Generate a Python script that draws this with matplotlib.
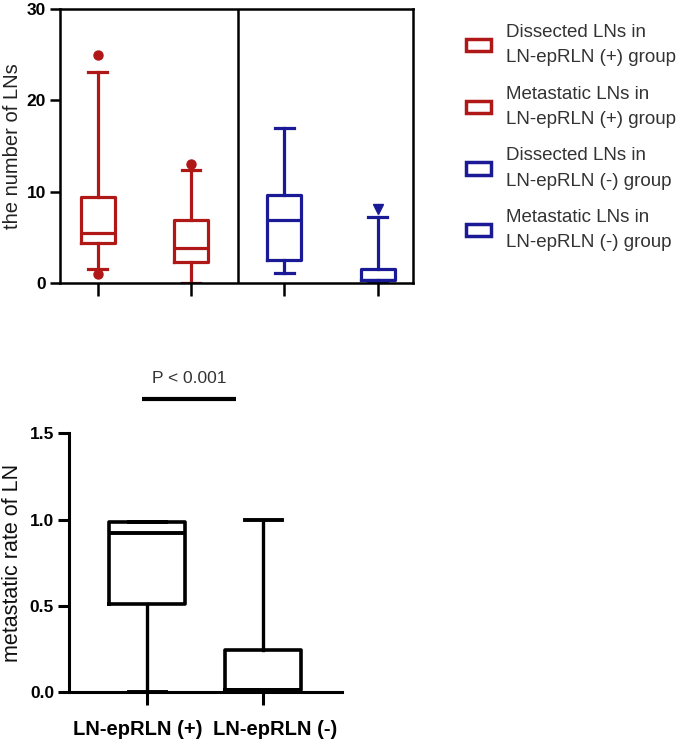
import matplotlib
matplotlib.use("Agg")
import matplotlib.pyplot as plt
from matplotlib.patches import Patch
import matplotlib.transforms as mtransforms

plt.rcParams['font.family'] = ['Liberation Sans', 'DejaVu Sans']

# ---------------- data: top panel (number of LNs) ----------------
top_labels = ["Dissected LNs in\nLN-epRLN (+) group",
              "Metastatic LNs in\nLN-epRLN (+) group",
              "Dissected LNs in\nLN-epRLN (-) group",
              "Metastatic LNs in\nLN-epRLN (-) group"]
top_q1 = [4.4, 2.3, 2.55, 0.3]
top_med = [5.5, 3.8, 6.9, 0.3]
top_q3 = [9.4, 6.85, 9.6, 1.5]
top_whislo = [1.5, 0.0, 1.1, 0.0]
top_whishi = [23.1, 12.4, 17.0, 7.2]
top_fliers = [[25.0, 1.0], [13.0], [], [8.1]]
top_markers = ['o', 'o', 'o', 'v']

# ---------------- data: bottom panel (metastatic rate) ----------------
bot_labels = ["LN-epRLN (+)", "LN-epRLN (-)"]
bot_q1 = [0.51, 0.012]
bot_med = [0.92, 0.012]
bot_q3 = [0.985, 0.245]
bot_whislo = [0.0, 0.0]
bot_whishi = [0.985, 1.0]
p_text = "P < 0.001"

RED = '#B01818'
BLUE = '#1A1A96'
top_colors = [RED, RED, BLUE, BLUE]

fig = plt.figure(figsize=(6.85, 7.45), dpi=100)

# ---------------- top panel ----------------
ax1 = fig.add_axes([60/685, 1 - 283/745, 353/685, 274/745])
positions = [1, 2, 3, 4]
for i in range(4):
    st = [dict(med=top_med[i], q1=top_q1[i], q3=top_q3[i],
               whislo=top_whislo[i], whishi=top_whishi[i], fliers=top_fliers[i])]
    c = top_colors[i]
    ax1.bxp(st, positions=[positions[i]], widths=0.365, showfliers=True,
            boxprops=dict(color=c, linewidth=2.3),
            medianprops=dict(color=c, linewidth=2.3),
            whiskerprops=dict(color=c, linewidth=2.3),
            capprops=dict(color=c, linewidth=2.3),
            flierprops=dict(marker=top_markers[i], markerfacecolor=c,
                            markeredgecolor=c, markersize=6.5, linestyle='none'),
            capwidths=0.2, manage_ticks=False)
ax1.set_xlim(0.595, 4.38)
ax1.set_ylim(0, 30)
ax1.axvline(2.5, color='black', linewidth=1.8)
ax1.set_yticks([0, 10, 20, 30])
ax1.set_xticks(positions)
ax1.set_xticklabels([])
for s in ax1.spines.values():
    s.set_linewidth(1.8)
ax1.tick_params(axis='y', direction='out', length=7, width=1.8, labelsize=12.5, pad=3)
ax1.tick_params(axis='x', direction='out', length=9, width=1.8)
for lab in ax1.get_yticklabels():
    lab.set_fontweight('bold')
ax1.set_ylabel("the number of LNs", fontsize=14.5, color='#222222')
ax1.yaxis.set_label_coords(-0.108, 0.5)

handles = [Patch(facecolor='white', edgecolor=c, linewidth=2.5) for c in top_colors]
leg = fig.legend(handles, top_labels, loc='upper left', bbox_to_anchor=(466/685, 1 - 24/745),
                 frameon=False, fontsize=13.5, handlelength=1.35, handleheight=0.62,
                 handletextpad=0.8, labelspacing=1.05, borderaxespad=0, borderpad=0)
for t in leg.get_texts():
    t.set_color('#333333')
    t.set_linespacing(1.62)

# ---------------- bottom panel ----------------
ax2 = fig.add_axes([69.3/685, 1 - 692.3/745, 272.4/685, 259/745])
for i in range(2):
    st = [dict(med=bot_med[i], q1=bot_q1[i], q3=bot_q3[i],
               whislo=bot_whislo[i], whishi=bot_whishi[i], fliers=[])]
    ax2.bxp(st, positions=[i + 1], widths=0.655, showfliers=False,
            boxprops=dict(color='black', linewidth=2.6),
            medianprops=dict(color='black', linewidth=2.8),
            whiskerprops=dict(color='black', linewidth=2.4),
            capprops=dict(color='black', linewidth=2.8),
            capwidths=0.32, manage_ticks=False)
ax2.set_xlim(0.327, 2.676)
ax2.set_ylim(0, 1.5)
ax2.set_yticks([0.0, 0.5, 1.0, 1.5])
ax2.set_yticklabels(["0.0", "0.5", "1.0", "1.5"])
ax2.set_xticks([1, 2])
ax2.set_xticklabels(bot_labels)
ax2.spines['top'].set_visible(False)
ax2.spines['right'].set_visible(False)
for s in ['left', 'bottom']:
    ax2.spines[s].set_linewidth(2.2)
ax2.tick_params(axis='y', direction='out', length=8, width=2.2, labelsize=12.5, pad=3)
ax2.tick_params(axis='x', direction='out', length=9, width=2.2, labelsize=14.5, pad=11)
for lab in ax2.get_yticklabels() + ax2.get_xticklabels():
    lab.set_fontweight('bold')
xl = ax2.get_xticklabels()
xl[0].set_transform(xl[0].get_transform() + mtransforms.ScaledTranslation(-10/100, 0, fig.dpi_scale_trans))
xl[1].set_transform(xl[1].get_transform() + mtransforms.ScaledTranslation(12/100, 0, fig.dpi_scale_trans))
ax2.set_ylabel("metastatic rate of LN", fontsize=15.5, color='#111111')
ax2.yaxis.set_label_coords(-0.170, 0.5)

# significance bar
ax2.plot([0.954, 1.765], [1.70, 1.70], color='black', linewidth=3, clip_on=False,
         solid_capstyle='butt')
ax2.text(1.36, 1.82, p_text, ha='center', va='center', fontsize=12.5,
         color='#333333', clip_on=False)

fig.savefig("out.png", dpi=100)
